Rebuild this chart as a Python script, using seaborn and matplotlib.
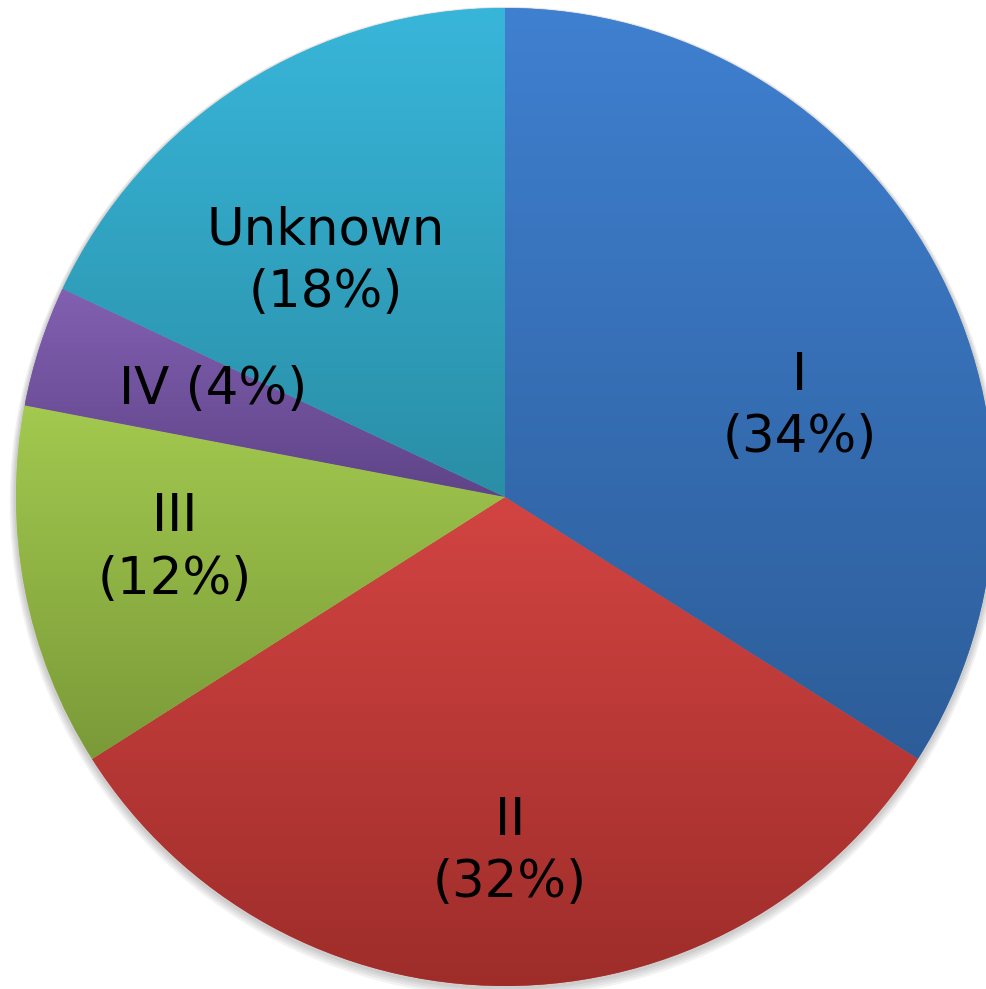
import numpy as np
import matplotlib
matplotlib.use("Agg")
import matplotlib.pyplot as plt
import seaborn as sns
from matplotlib.colors import LinearSegmentedColormap
from matplotlib.patches import Circle

categories = ["I", "II", "III", "IV", "Unknown"]
values = [34, 32, 12, 4, 18]
label_texts = ["I\n(34%)", "II\n(32%)", "III\n(12%)", "IV (4%)", "Unknown\n(18%)"]
top_colors = ["#3F80D0", "#D24442", "#A3C94F", "#8260B2", "#38B6DA"]
bottom_colors = ["#2D5D99", "#9E2D2A", "#7A9A38", "#5F4488", "#2A8EA6"]
label_pos = [(0.603, 0.184), (0.010, -0.726), (-0.675, -0.106), (-0.597, 0.219), (-0.366, 0.481)]

sns.set_theme(style="white")
plt.rcParams['font.family'] = ['DejaVu Sans']

W, H = 986, 989
fig = plt.figure(figsize=(W / 100, H / 100), dpi=100)
ax = fig.add_axes([0, 0, 1, 1])

cx_px, cy_px, r_px = 505, 497, 489

# soft shadow
for i, a in enumerate([0.05, 0.05, 0.05, 0.05]):
    ax.add_patch(Circle((0, -0.004 - i * 0.002), 1 + 0.004 + i * 0.003,
                        facecolor="black", edgecolor="none", alpha=a, zorder=0))

wedges, _ = ax.pie(values, startangle=90, counterclock=False, radius=1,
                   center=(0, 0), wedgeprops=dict(linewidth=0, edgecolor="none"))

grad = np.linspace(0, 1, 256).reshape(-1, 1)
for w, tc, bc in zip(wedges, top_colors, bottom_colors):
    w.set_facecolor(tc)
    w.set_zorder(1)
    ext = w.get_path().get_extents()
    cmap = LinearSegmentedColormap.from_list("g", [tc, bc])
    im = ax.imshow(grad, cmap=cmap, aspect="auto",
                   extent=(ext.x0, ext.x1, ext.y0, ext.y1), origin="upper",
                   zorder=2, interpolation="bilinear")
    im.set_clip_path(w)

for (x, y), t in zip(label_pos, label_texts):
    ax.text(x, y, t, ha="center", va="center", fontsize=37, color="black",
            linespacing=1.33, zorder=5, fontweight="normal")

ax.set_xlim(-cx_px / r_px, (W - cx_px) / r_px)
ax.set_ylim(-(H - cy_px) / r_px, cy_px / r_px)
ax.set_aspect("auto")
ax.axis("off")

fig.savefig("out.png", dpi=100)
